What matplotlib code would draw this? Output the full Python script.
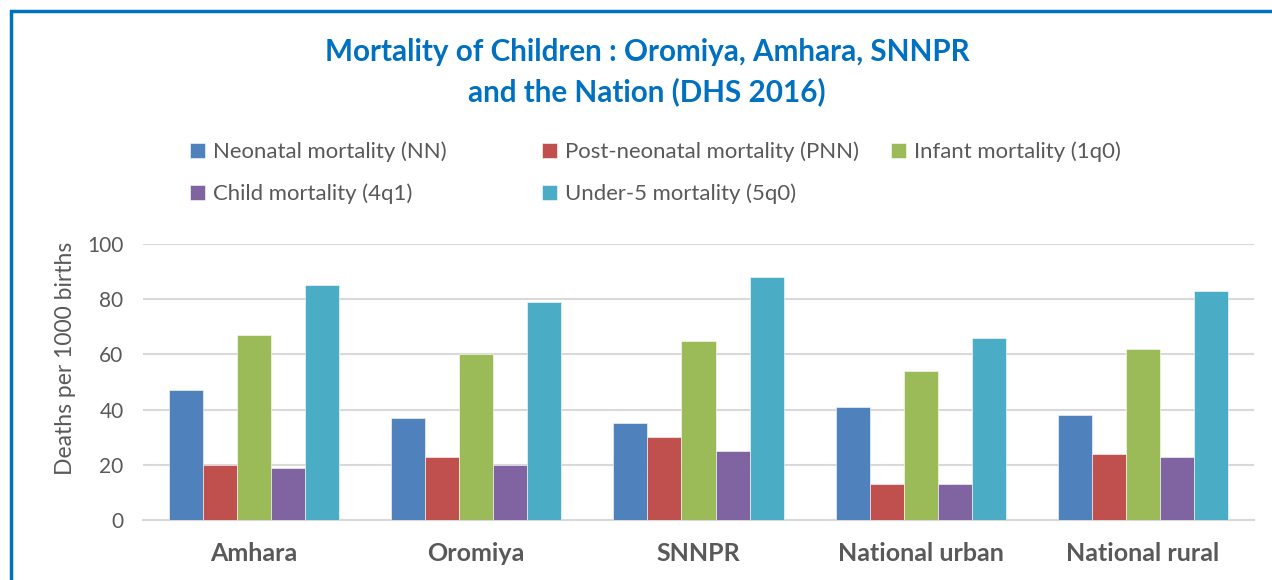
import matplotlib
matplotlib.use("Agg")
import matplotlib.pyplot as plt
from matplotlib.patches import Rectangle
import numpy as np

categories = ["Amhara", "Oromiya", "SNNPR", "National urban", "National rural"]
series_names = ["Neonatal mortality (NN)", "Post-neonatal mortality (PNN)", "Infant mortality (1q0)",
                "Child mortality (4q1)", "Under-5 mortality (5q0)"]
neonatal = [47, 37, 35, 41, 38]
post_neonatal = [20, 23, 30, 13, 24]
infant = [67, 60, 65, 54, 62]
child = [19, 20, 25, 13, 23]
under5 = [85, 79, 88, 66, 83]
colors = ["#4F81BD", "#C0504D", "#9BBB59", "#8064A2", "#4BACC6"]
yticks = [0, 20, 40, 60, 80, 100]

series = [neonatal, post_neonatal, infant, child, under5]

plt.rcParams['font.family'] = ['Lato', 'DejaVu Sans']
W, H = 1272, 580
fig = plt.figure(figsize=(W / 100, H / 100), dpi=100)

# axes: x 143..1254, y 244 (100) .. 520 (0)
ax = fig.add_axes([143 / W, 1 - 520 / H, (1254 - 143) / W, (520 - 244) / H])
n = len(categories)
x = np.arange(n)
group_w = 0.766
bw = group_w / len(series)
bars = []
for i, (vals, c) in enumerate(zip(series, colors)):
    b = ax.bar(x - group_w / 2 + bw * (i + 0.5), vals, width=bw, color=c, zorder=3,
               edgecolor='white', linewidth=0.4)
    bars.append(b)

ax.set_xlim(-0.5, n - 0.5)
ax.set_ylim(0, 100)
ax.set_yticks(yticks)
ax.yaxis.grid(True, color='#D9D9D9', linewidth=1.5, zorder=0)
ax.set_axisbelow(True)
for s in ['top', 'right', 'left']:
    ax.spines[s].set_visible(False)
ax.spines['bottom'].set_color('#D9D9D9')
ax.spines['bottom'].set_linewidth(1.5)
ax.tick_params(axis='both', length=0, colors='#595959')
ax.tick_params(axis='y', pad=14, labelsize=15)
ax.tick_params(axis='x', pad=16)
ax.set_xticks(x)
ax.set_xticklabels(categories, fontweight='bold', fontsize=18, color='#595959')
ax.set_ylabel("Deaths per 1000 births", fontsize=16.5, color='#595959')
ax.yaxis.set_label_coords(-0.060, 0.585)

# title
fig.text(647 / W, 1 - 52 / H, "Mortality of Children : Oromiya, Amhara, SNNPR",
         ha='center', va='center', fontsize=21.3, fontweight='bold', color='#0070C0')
fig.text(647 / W, 1 - 92 / H, "and the Nation (DHS 2016)",
         ha='center', va='center', fontsize=21.3, fontweight='bold', color='#0070C0')

# legend entries
pos = [(190, 152), (542, 152), (891, 152), (190, 194), (542, 194)]
for (px, py), b, name in zip(pos, bars, series_names):
    fig.legend([b], [name], loc='center left', bbox_to_anchor=(px / W, 1 - py / H),
               frameon=False, fontsize=15.9, handlelength=0.7, handleheight=0.7,
               handletextpad=0.35, borderaxespad=0, borderpad=0, labelcolor='#595959')

# outer border
fig.patches.append(Rectangle((11 / W, -0.1), 1.2, 1 - 11 / H + 0.1, transform=fig.transFigure,
                             fill=False, edgecolor='#0070C0', linewidth=2.5))

fig.savefig("out.png", dpi=100)
